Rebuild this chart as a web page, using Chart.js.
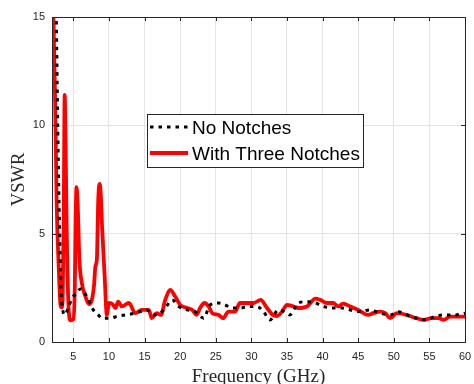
<!DOCTYPE html>
<html>
<head>
<meta charset="utf-8">
<script src="https://cdn.jsdelivr.net/npm/chart.js@4.4.1/dist/chart.umd.min.js"></script>
<style>
  html, body { margin: 0; padding: 0; background: #fff; overflow: hidden; }
  #wrap { width: 474px; height: 400px; }
</style>
</head>
<body>
<div id="wrap"><canvas id="vswrChart"></canvas></div>
<script>
// frequency (GHz) / VSWR
const freqNoNotch = [2.0, 2.6, 2.85, 3.05, 3.25, 3.5, 3.8, 4.3, 4.8, 5.4, 6.0, 6.9, 7.8, 8.5, 9.0, 10.2,
  11.3, 12.3, 13.2, 14.4, 15.3, 16.3, 17.2, 17.9, 18.9, 19.8, 21.0, 22.1, 23.3, 24.2, 25.4, 26.3,
  27.3, 28.4, 29.6, 30.8, 31.7, 32.6, 33.8, 34.7, 35.4, 36.6, 37.8, 39.0, 40.1, 41.5, 42.7, 43.9,
  45.3, 46.6, 48.1, 49.5, 50.6, 51.8, 53.2, 54.6, 55.7, 57.2, 58.6, 60.0];
const vswrNoNotch = [25, 15, 9, 5.5, 2.6, 1.5, 1.25, 1.6, 2.0, 2.25, 2.45, 2.1, 1.48, 1.25, 1.1, 1.1,
  1.2, 1.25, 1.3, 1.4, 1.48, 1.25, 1.33, 1.57, 1.94, 1.64, 1.48, 1.4, 1.1, 1.71, 1.8, 1.71,
  1.57, 1.57, 1.64, 1.64, 1.4, 1.02, 1.48, 1.4, 1.25, 1.8, 1.86, 1.8, 1.64, 1.57, 1.57, 1.48,
  1.4, 1.48, 1.33, 1.25, 1.4, 1.25, 1.1, 1.02, 1.17, 1.25, 1.25, 1.33];

const freqNotch = [2.0, 2.2, 2.45, 2.65, 2.95, 3.2, 3.35, 3.5, 3.65, 3.78, 3.9, 4.05, 4.3, 4.6, 5.0,
  5.2, 5.35, 5.45, 5.6, 5.85, 6.2, 6.7, 7.2, 7.6, 7.9, 8.1, 8.3, 8.5, 8.7, 8.85, 9.05, 9.4, 9.7,
  10.0, 10.5, 10.9, 11.3, 11.8, 12.8, 13.7, 14.6, 15.6, 16.0, 16.7, 17.3, 17.9, 18.6, 19.3, 20.0,
  21.0, 21.7, 22.3, 22.8, 23.4, 24.0, 24.5, 25.4, 26.0, 26.8, 27.7, 28.4, 29.4, 30.3, 31.3, 32.2,
  33.0, 33.6, 34.3, 35.0, 35.9, 36.6, 37.8, 39.0, 39.7, 40.6, 41.5, 42.2, 42.9, 43.9, 45.0, 46.4,
  47.1, 48.1, 48.8, 49.5, 50.4, 51.8, 53.2, 54.2, 55.3, 56.3, 57.0, 57.9, 60.0];
const vswrNotch = [17, 15, 11, 6.5, 3.4, 1.7, 1.6, 2.0, 6, 11.4, 9.5, 5.5, 1.8, 1.0, 1.05,
  2.5, 6.2, 7.15, 6.4, 3.8, 2.7, 2.1, 1.75, 1.95, 2.6, 3.5, 3.8, 6.6, 7.3, 6.8, 5.2, 3.0, 1.25,
  1.8, 1.75, 1.57, 1.86, 1.64, 1.8, 1.33, 1.48, 1.48, 1.1, 1.33, 1.25, 1.94, 2.4, 2.1, 1.71,
  1.57, 1.48, 1.25, 1.57, 1.8, 1.64, 1.33, 1.25, 1.1, 1.4, 1.4, 1.8, 1.8, 1.8, 1.94, 1.57,
  1.25, 1.2, 1.4, 1.71, 1.64, 1.57, 1.64, 2.0, 1.94, 1.8, 1.8, 1.64, 1.77, 1.64, 1.48, 1.25,
  1.33, 1.4, 1.33, 1.1, 1.33, 1.25, 1.1, 1.02, 1.1, 1.1, 1.02, 1.17, 1.17];

const xTicks = [5, 10, 15, 20, 25, 30, 35, 40, 45, 50, 55, 60];
const yTicks = [0, 5, 10, 15];
const seriesNames = ['No Notches', 'With Three Notches'];

const axisColor = '#262626';
const gridColor = '#e3e3e3';

const toPoints = (xs, ys) => xs.map((x, i) => ({ x, y: ys[i] }));

// MATLAB-style box, inner tick marks and a legend sitting inside the plot
const boxPlugin = {
  id: 'matlabBox',
  afterDatasetsDraw(chart) {
    const { ctx, chartArea: a, scales } = chart;
    ctx.save();
    ctx.strokeStyle = axisColor;
    ctx.lineWidth = 1;
    ctx.strokeRect(Math.round(a.left) + 0.5, Math.round(a.top) + 0.5,
      Math.round(a.right - a.left), Math.round(a.bottom - a.top));

    ctx.beginPath();
    xTicks.forEach(v => {
      const px = Math.round(scales.x.getPixelForValue(v)) + 0.5;
      ctx.moveTo(px, a.bottom); ctx.lineTo(px, a.bottom - 4);
      ctx.moveTo(px, a.top); ctx.lineTo(px, a.top + 4);
    });
    yTicks.forEach(v => {
      const py = Math.round(scales.y.getPixelForValue(v)) + 0.5;
      ctx.moveTo(a.left, py); ctx.lineTo(a.left + 4, py);
      ctx.moveTo(a.right, py); ctx.lineTo(a.right - 4, py);
    });
    ctx.stroke();

    // legend
    const lx = 147, ly = 114, lw = 216, lh = 53;
    ctx.fillStyle = '#fff';
    ctx.fillRect(lx, ly, lw, lh);
    ctx.strokeStyle = axisColor;
    ctx.strokeRect(lx + 0.5, ly + 0.5, lw, lh);
    const rows = [127, 153];
    chart.data.datasets.forEach((ds, i) => {
      const y = rows[i];
      ctx.beginPath();
      ctx.strokeStyle = ds.borderColor;
      ctx.lineWidth = ds.borderWidth;
      ctx.setLineDash(ds.borderDash || []);
      ctx.moveTo(150, y); ctx.lineTo(188, y);
      ctx.stroke();
      ctx.setLineDash([]);
      ctx.fillStyle = '#000';
      ctx.font = '19px "Liberation Sans", Arial, sans-serif';
      ctx.textBaseline = 'middle';
      ctx.fillText(ds.label, 192, y + 2);
    });
    ctx.restore();
  }
};

new Chart(document.getElementById('vswrChart'), {
  type: 'line',
  data: {
    datasets: [
      {
        label: seriesNames[0],
        data: toPoints(freqNoNotch, vswrNoNotch),
        borderColor: '#000',
        borderWidth: 3,
        borderDash: [3.5, 5],
        pointRadius: 0,
        cubicInterpolationMode: 'monotone',
        fill: false
      },
      {
        label: seriesNames[1],
        data: toPoints(freqNotch, vswrNotch),
        borderColor: '#ff0000',
        borderWidth: 3.8,
        pointRadius: 0,
        cubicInterpolationMode: 'monotone',
        fill: false
      }
    ]
  },
  options: {
    responsive: true,
    maintainAspectRatio: false,
    animation: false,
    layout: { padding: { top: 17, right: 9, left: 0, bottom: 0 } },
    plugins: { legend: { display: false }, tooltip: { enabled: false } },
    scales: {
      x: {
        type: 'linear',
        min: 2,
        max: 60,
        afterBuildTicks: s => { s.ticks = xTicks.map(v => ({ value: v })); },
        afterFit: s => { s.height = 58; s.paddingLeft = 0; s.paddingRight = 0; },
        grid: { color: gridColor, drawTicks: false },
        border: { display: false },
        ticks: {
          color: axisColor, padding: 8, maxRotation: 0, autoSkip: false,
          font: { family: '"Liberation Sans", Arial, sans-serif', size: 11 }
        },
        title: {
          display: true,
          text: 'Frequency (GHz)',
          color: axisColor,
          padding: { top: 0, bottom: 12 },
          font: { family: '"Liberation Serif", "Times New Roman", serif', size: 19 }
        }
      },
      y: {
        min: 0,
        max: 15,
        afterBuildTicks: s => { s.ticks = yTicks.map(v => ({ value: v })); },
        afterFit: s => { s.width = 52; },
        grid: { color: gridColor, drawTicks: false },
        border: { display: false },
        ticks: {
          color: axisColor, padding: 7,
          font: { family: '"Liberation Sans", Arial, sans-serif', size: 11 }
        },
        title: {
          display: true,
          text: 'VSWR',
          color: axisColor,
          padding: { top: 8, bottom: 0 },
          font: { family: '"Liberation Serif", "Times New Roman", serif', size: 18.5 }
        }
      }
    }
  },
  plugins: [boxPlugin]
});
</script>
</body>
</html>
